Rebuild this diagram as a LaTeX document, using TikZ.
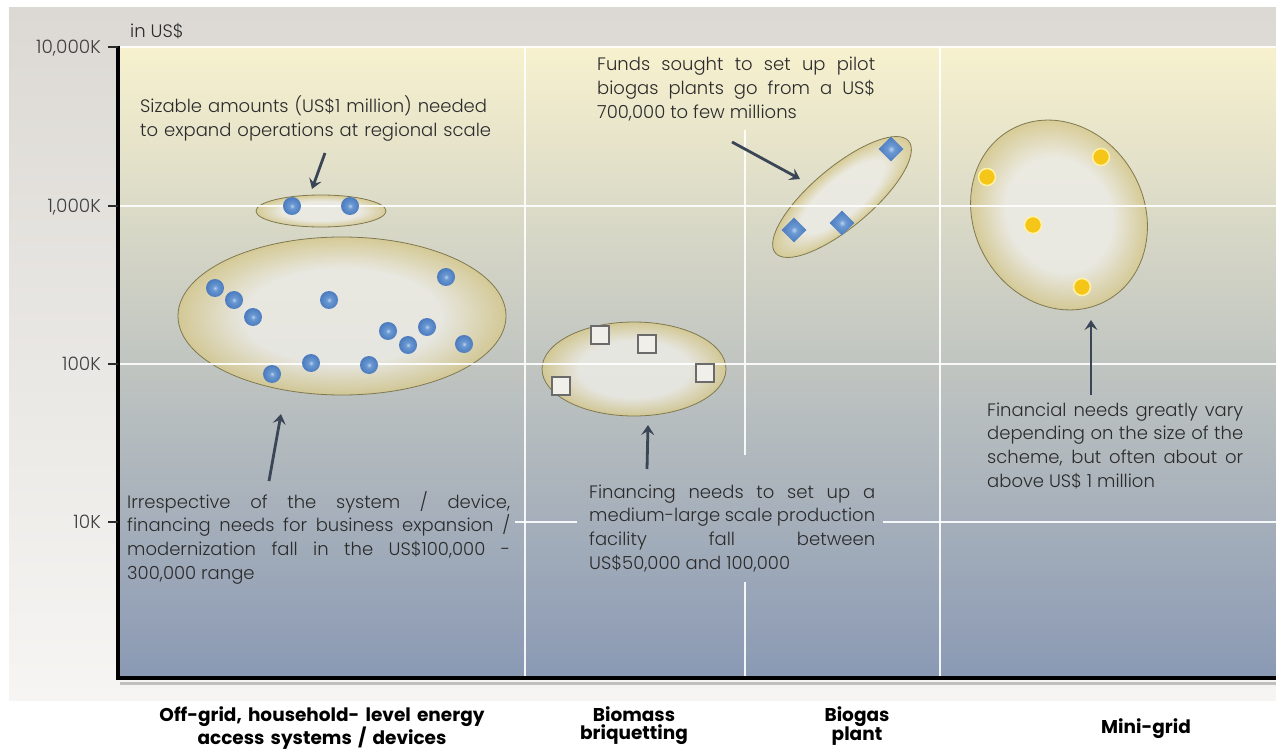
\documentclass[tikz,border=0pt]{standalone}
\usepackage{fontspec}
\setmainfont{Poppins}[UprightFont=* Light, BoldFont=* SemiBold, Numbers=Monospaced]
\newfontfamily\labfont{Poppins}[UprightFont=* Bold]
\usetikzlibrary{arrows.meta,shapes.geometric,calc}
\definecolor{bgtop}{HTML}{DCD9D4}
\definecolor{bgbot}{HTML}{F6F5F3}
\definecolor{plottop}{HTML}{F7F1CE}
\definecolor{plotmid}{HTML}{C8CED9}
\definecolor{plotbot}{HTML}{8A99B4}
\definecolor{ellc}{HTML}{EDECE6}
\definecolor{ellr}{HTML}{D5C88E}
\definecolor{ellb}{HTML}{80794F}
\definecolor{dotin}{HTML}{B7D2F0}
\definecolor{dotmid}{HTML}{6A98D2}
\definecolor{dotout}{HTML}{4B7BBE}
\definecolor{sqfill}{HTML}{F1EFEA}
\definecolor{sqdraw}{HTML}{6B6B6B}
\definecolor{ydot}{HTML}{F5C518}
\definecolor{ydotb}{HTML}{FFF2A6}
\definecolor{arrc}{HTML}{3A4556}
\definecolor{txtc}{HTML}{2B2B2B}
\pgfdeclareradialshading{ellfill}{\pgfpointorigin}{color(0bp)=(ellc);color(15bp)=(ellc);color(25bp)=(ellr);color(50bp)=(ellr)}
\pgfdeclareradialshading{bdot}{\pgfpointorigin}{color(0bp)=(dotin);color(7bp)=(dotmid);color(25bp)=(dotout);color(50bp)=(dotout)}
\tikzset{
  grid/.style={white, line width=1.3pt, opacity=0.9},
  ell/.style={ellipse, draw=ellb, line width=0.8pt, shade, shading=ellfill, fill opacity=0.85, inner sep=0pt, outer sep=0pt},
  ellshade/.style={draw=ellb, line width=0.8pt, shade, shading=ellfill, fill opacity=0.85},
  bdotn/.style={circle, minimum size=18pt, inner sep=0pt, shade, shading=bdot},
  sqn/.style={rectangle, minimum size=18pt, inner sep=0pt, fill=sqfill, draw=sqdraw, line width=1.2pt},
  dia/.style={diamond, minimum size=25pt, inner sep=0pt, shade, shading=bdot},
  ydotn/.style={circle, minimum size=17pt, inner sep=0pt, fill=ydot, draw=ydotb, line width=1.5pt},
  arr/.style={draw=arrc, line width=2.8pt, -{Stealth[length=10pt,width=13pt,inset=4pt]}},
  txt/.style={font=\fontsize{18}{23.7}\selectfont, text=txtc, inner sep=0pt, anchor=base west},
  tick/.style={font=\fontsize{18.5}{20}\selectfont, text=txtc!90, inner sep=0pt, anchor=base east},
  lab/.style={font=\labfont\fontsize{18.5}{18}\selectfont, text=black, inner sep=0pt, anchor=base, align=center, text width=420pt}
}
\begin{document}
\hyphenpenalty=10000
\exhyphenpenalty=10000
\begin{tikzpicture}[x=1pt,y=-1pt]
\useasboundingbox (0,0) rectangle (1276,751);
\fill[white] (0,0) rectangle (1276,751);
\shade[top color=bgtop, bottom color=bgbot] (9,8) rectangle (1276,700);
% plot area
\shade[top color=plottop, middle color=plotmid, bottom color=plotbot] (118,47) rectangle (1276,678);
% ellipses
\node[ell, minimum width=130pt, minimum height=32pt] (e1) at (321,211) {};
\node[ell, minimum width=328pt, minimum height=158pt] (e2) at (342,316) {};
\node[ell, minimum width=184pt, minimum height=94pt] (e3) at (634,369) {};
\begin{scope}[transform canvas={rotate around={40:(842,197)}}]
\shade[ellshade] (842,197) ellipse [x radius=87, y radius=30];
\end{scope}
\begin{scope}[transform canvas={rotate around={30:(1059,215)}}]
\shade[ellshade] (1059,215) ellipse [x radius=85, y radius=98];
\end{scope}
\coordinate (e4) at (842,197);
\coordinate (e5) at (1059,215);
% grid lines
\draw[grid] (118,47) -- (1276,47);
\draw[grid] (118,206) -- (1276,206);
\draw[grid] (118,364) -- (1276,364);
\draw[grid] (515,522) -- (577,522);
\draw[grid] (883,522) -- (1276,522);
\draw[grid] (525,47) -- (525,678);
\draw[grid] (745,130) -- (745,455);
\draw[grid] (745,582) -- (745,678);
\draw[grid] (940,47) -- (940,678);
% axes
\draw[black!45, line width=3pt, opacity=0.5] (120,683) -- (1276,683);
\draw[black, line width=3.5pt] (118,46) -- (118,678);
\draw[black, line width=4.5pt] (116,678) -- (1276,678);
\foreach \yy in {47,206,364,522} \draw[txtc, line width=1.5pt] (108,\yy) -- (118,\yy);
\node[tick] (y1) at (101,53.5) {10,000K};
\node[tick] (y2) at (101,212.5) {1,000K};
\node[tick] (y3) at (101,370.5) {100K};
\node[tick] (y4) at (101,528.5) {10K};
\node[font=\fontsize{18}{20}\selectfont, text=txtc, inner sep=0pt, anchor=base west] (unit) at (130,37.5) {in US\$};
% data markers
\node[bdotn] (d1) at (292,206) {};
\node[bdotn] (d2) at (350,206) {};
\node[bdotn] (d3) at (215,288) {};
\node[bdotn] (d4) at (234,300) {};
\node[bdotn] (d5) at (253,317) {};
\node[bdotn] (d6) at (329,300) {};
\node[bdotn] (d7) at (446,277) {};
\node[bdotn] (d8) at (388,331) {};
\node[bdotn] (d9) at (427,327) {};
\node[bdotn] (d10) at (408,345) {};
\node[bdotn] (d11) at (464,344) {};
\node[bdotn] (d12) at (311,363) {};
\node[bdotn] (d13) at (369,365) {};
\node[bdotn] (d14) at (272,374) {};
\node[sqn] (s1) at (600,335) {};
\node[sqn] (s2) at (647,344) {};
\node[sqn] (s3) at (561,386) {};
\node[sqn] (s4) at (705,373) {};
\node[dia] (g1) at (891,149) {};
\node[dia] (g2) at (842,223) {};
\node[dia] (g3) at (794,230) {};
\node[ydotn] (m1) at (987,177) {};
\node[ydotn] (m2) at (1101,157) {};
\node[ydotn] (m3) at (1033,225) {};
\node[ydotn] (m4) at (1082,287) {};
% texts
\node[txt, text width=370pt, align=left] (t1) at (140,113) {Sizable amounts (US\$1 million) needed\\to expand operations at regional scale};
\node[txt, text width=278pt, align=justify] (t2) at (597,71) {Funds sought to set up pilot\linebreak biogas plants go from a US\$\linebreak 700,000 to few millions};
\node[txt, text width=383pt, align=justify] (t3) at (127,508) {Irrespective of the system / device,\linebreak financing needs for business expansion /\linebreak modernization fall in the US\$100,000 -\linebreak 300,000 range};
\node[txt, text width=286pt, align=justify] (t4) at (589,498) {Financing needs to set up a\linebreak medium-large scale production\linebreak facility fall between\linebreak US\$50,000 and 100,000};
\node[txt, text width=256pt, align=justify] (t5) at (987,416) {Financial needs greatly vary\linebreak depending on the size of the\linebreak scheme, but often about or\linebreak above US\$ 1 million};
% arrows
\coordinate (a1s) at (325,153); \coordinate (a1e) at (312,189);
\coordinate (a2s) at (269,481); \coordinate (a2e) at (281,414);
\coordinate (a3s) at (647,469); \coordinate (a3e) at (648,425);
\coordinate (a4s) at (732,142); \coordinate (a4e) at (800,179);
\coordinate (a5s) at (1091,395); \coordinate (a5e) at (1091,320);
\draw[arr] (a1s) -- (a1e);
\draw[arr] (a2s) -- (a2e);
\draw[arr] (a3s) -- (a3e);
\draw[arr] (a4s) -- (a4e);
\draw[arr] (a5s) -- (a5e);
% category labels
\node[lab] (c1) at (322,721) {Off-grid, household- level energy\\access systems / devices};
\node[lab] (c2) at (634,721) {Biomass\\briquetting};
\node[lab] (c3) at (857,721) {Biogas\\plant};
\node[lab] (c4) at (1146,733) {Mini-grid};
\end{tikzpicture}
\end{document}
